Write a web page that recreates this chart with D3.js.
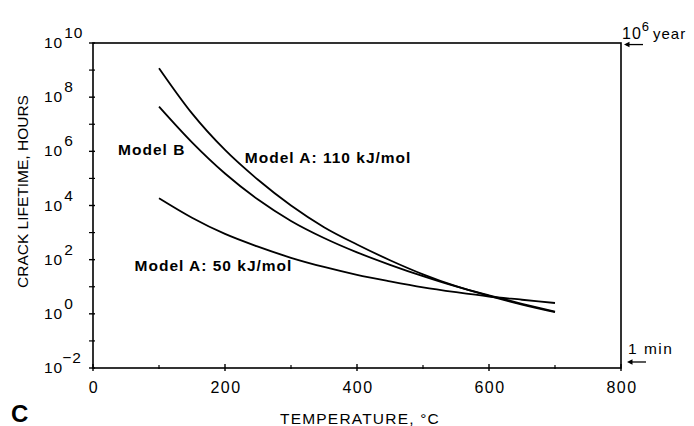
<!DOCTYPE html>
<meta charset="utf-8">
<html>
<style>
	body { margin: 0; background: #fff; }
	text { font-family: "Liberation Sans", Arial, sans-serif; fill: #000; }
	.curve { fill: none; stroke: #000; stroke-width: 1.8px; }
	.frame { fill: none; stroke: #000; stroke-width: 1.6px; }
</style>
<body>
<script src="https://d3js.org/d3.v7.min.js"></script>
<script>
	// temperature (°C) and log10 of crack lifetime (hours)
	var temps = [100, 150, 200, 250, 300, 350, 400, 450, 500, 550, 600, 650, 700];
	var modelA110 = [9.07, 7.40, 6.05, 4.95, 4.00, 3.20, 2.56, 1.98, 1.46, 1.02, 0.66, 0.34, 0.06];
	var modelB = [7.65, 6.33, 5.18, 4.22, 3.43, 2.80, 2.27, 1.81, 1.39, 1.01, 0.68, 0.37, 0.08];
	var modelA50 = [4.27, 3.55, 2.95, 2.48, 2.07, 1.73, 1.44, 1.20, 0.98, 0.80, 0.64, 0.52, 0.40];

	var xMajor = [0, 200, 400, 600, 800];
	var xMinor = [100, 300, 500, 700];
	var yMajor = [-2, 0, 2, 4, 6, 8, 10];
	var yMinor = [-1, 1, 3, 5, 7, 9];

	var curveLabels = [
		{ text: "Model B", t: 38, v: 5.86 },
		{ text: "Model A: 110 kJ/mol", t: 230, v: 5.57 },
		{ text: "Model A: 50 kJ/mol", t: 63, v: 1.58 }
	];
	// right-hand markers: 10^6 year and 1 min expressed in hours
	var markers = [
		{ v: Math.log10(1e6 * 365 * 24) },
		{ v: Math.log10(1 / 60) }
	];

	var width = 694, height = 426;
	var mLeft = 93, mRight = 621, mTop = 43, mBottom = 368;

	var svg = d3.select("body").append("svg")
		.attr("width", width)
		.attr("height", height);

	var x = d3.scaleLinear().domain([0, 800]).range([mLeft, mRight]);
	var y = d3.scaleLinear().domain([-2, 10]).range([mBottom, mTop]);

	// frame
	svg.append("rect").attr("class", "frame")
		.attr("x", mLeft).attr("y", mTop)
		.attr("width", mRight - mLeft).attr("height", mBottom - mTop);

	// x ticks
	var xg = svg.append("g");
	xg.selectAll(".xmaj").data(xMajor).enter().append("line")
		.attr("x1", d => x(d)).attr("x2", d => x(d))
		.attr("y1", mBottom - 4).attr("y2", mBottom + 3)
		.attr("stroke", "#000").attr("stroke-width", 1.4);
	xg.selectAll(".xmin").data(xMinor).enter().append("line")
		.attr("x1", d => x(d)).attr("x2", d => x(d))
		.attr("y1", mBottom - 3).attr("y2", mBottom + 1)
		.attr("stroke", "#000").attr("stroke-width", 1.2);
	xg.selectAll("text").data(xMajor).enter().append("text")
		.attr("x", d => x(d) + 1).attr("y", mBottom + 25)
		.attr("text-anchor", "middle")
		.style("font-size", "16px").style("letter-spacing", "1.5px")
		.text(d => d);

	// y ticks
	var yg = svg.append("g");
	yg.selectAll(".ymaj").data(yMajor).enter().append("line")
		.attr("x1", mLeft - 4).attr("x2", mLeft + 2)
		.attr("y1", d => y(d)).attr("y2", d => y(d))
		.attr("stroke", "#000").attr("stroke-width", 1.4);
	yg.selectAll(".ymin").data(yMinor).enter().append("line")
		.attr("x1", mLeft - 4).attr("x2", mLeft + 2)
		.attr("y1", d => y(d)).attr("y2", d => y(d))
		.attr("stroke", "#000").attr("stroke-width", 1.2);
	var yl = yg.selectAll("text").data(yMajor).enter().append("text")
		.attr("x", 44).attr("y", d => y(d) + 5)
		.style("font-size", "15.5px").style("letter-spacing", "1px");
	yl.append("tspan").text("10");
	yl.append("tspan").attr("dy", -10).attr("dx", d => d < 0 ? -1 : 1)
		.text(d => d < 0 ? "\u22122" : d);

	// curves
	var line = d3.line()
		.x(d => x(d[0]))
		.y(d => y(d[1]))
		.curve(d3.curveMonotoneX);
	[modelA110, modelB, modelA50].forEach(function (s) {
		svg.append("path").attr("class", "curve")
			.attr("d", line(temps.map((t, i) => [t, s[i]])));
	});

	// curve labels
	svg.selectAll(".clabel").data(curveLabels).enter().append("text")
		.attr("x", d => x(d.t)).attr("y", d => y(d.v))
		.style("font-size", "15.5px").style("font-weight", "bold")
		.style("letter-spacing", "1px")
		.text(d => d.text);

	// axis titles
	svg.append("text")
		.attr("x", x(400) + 3).attr("y", 424)
		.attr("text-anchor", "middle")
		.style("font-size", "15.5px").style("letter-spacing", "1.2px")
		.text("TEMPERATURE, \u00B0C");
	svg.append("text")
		.attr("transform", "translate(28," + ((mTop + mBottom) / 2 - 14) + ") rotate(-90)")
		.attr("text-anchor", "middle")
		.style("font-size", "15.5px")
		.text("CRACK LIFETIME, HOURS");

	// panel letter
	svg.append("text")
		.attr("x", 11).attr("y", 422)
		.style("font-size", "24px").style("font-weight", "bold")
		.text("C");

	// right markers with arrows
	markers.forEach(function (m, i) {
		var yy = y(m.v);
		var x0 = mRight + (i === 0 ? 3 : 6);
		svg.append("line")
			.attr("x1", x0 + 19).attr("x2", x0 + 2)
			.attr("y1", yy).attr("y2", yy)
			.attr("stroke", "#000").attr("stroke-width", 1.3);
		svg.append("path")
			.attr("d", "M" + x0 + "," + yy + "l5.5,-2.8l0,5.6z")
			.attr("fill", "#000");
	});
	var yr = svg.append("text")
		.attr("x", mRight + 1).attr("y", y(markers[0].v) - 6)
		.style("font-size", "16px").style("letter-spacing", "1px");
	yr.append("tspan").text("10");
	yr.append("tspan").attr("dy", -8).style("font-size", "13px").text("6");
	yr.append("tspan").attr("dy", 8).attr("dx", 3).style("font-size", "15px").text("year");
	svg.append("text")
		.attr("x", mRight + 7).attr("y", y(markers[1].v) - 8)
		.style("font-size", "15.5px").style("letter-spacing", "1.5px")
		.text("1 min");
</script>
</body>
</html>
